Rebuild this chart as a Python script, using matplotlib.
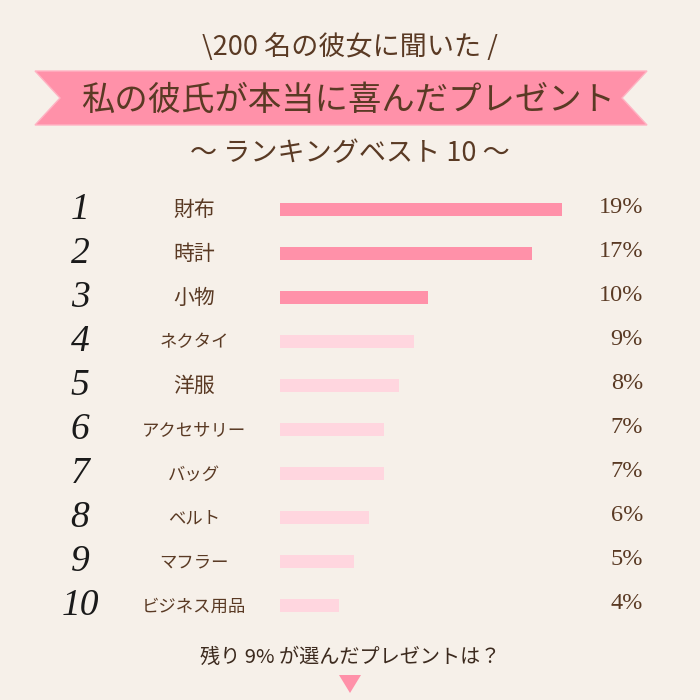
import numpy as np
import matplotlib
matplotlib.use("Agg")
import matplotlib.pyplot as plt
from matplotlib.patches import Polygon
from matplotlib import transforms

plt.rcParams['font.family'] = ['Noto Sans CJK JP', 'DejaVu Sans']

# data
items = ["財布", "時計", "小物", "ネクタイ", "洋服", "アクセサリー", "バッグ", "ベルト", "マフラー", "ビジネス用品"]
shares = [19, 17, 10, 9, 8, 7, 7, 6, 5, 4]
ranks = ["1", "2", "3", "4", "5", "6", "7", "8", "9", "10"]
header = "\\200 名の彼女に聞いた /"
title = "私の彼氏が本当に喜んだプレゼント"
subtitle = "～ ランキングベスト 10 ～"
footer = "残り 9% が選んだプレゼントは？"

bg = "#f6f0e9"
pink = "#ff91a9"
light_pink = "#ffd6df"
brown = "#5a3a24"

W = 700.0
fig = plt.figure(figsize=(7, 7), dpi=100, facecolor=bg)

# pixel helpers for figure coords
def fx(px):
    return px / W

def fy(py):
    return 1 - py / W

# chart axes spanning the whole figure: x in %, y in rows
px_per_pct = 14.84
bar_left_px = 280
row0_px = 209.5
row_px = 44.0
ax = fig.add_axes([0, 0, 1, 1])
ax.set_facecolor(bg)
ax.set_xlim(-bar_left_px / px_per_pct, (W - bar_left_px) / px_per_pct)
ax.set_ylim((W - row0_px) / row_px, -row0_px / row_px)
ax.axis("off")

rows = np.arange(len(items))
colors = [pink if i < 3 else light_pink for i in rows]
ax.barh(rows, shares, height=13 / row_px, left=0, color=colors)

tr = transforms.blended_transform_factory(fig.transFigure, ax.transData)
for i in rows:
    ax.text(fx(80), i, ranks[i], transform=tr, ha="center", va="center",
            family="Liberation Serif", style="italic", fontsize=27, color="#1a1a1a")
    small = len(items[i]) > 2
    ax.text(fx(194), i + 0.02, items[i], transform=tr, ha="center", va="center",
            fontsize=12.5 if small else 15, color=brown)
    ax.text(fx(643), i - 0.05, f"{shares[i]}%", transform=tr, ha="right", va="center",
            family="Liberation Serif", fontsize=17.5, color=brown)

# header block
fig.text(0.5, fy(47), header, ha="center", va="center", fontsize=19.5, color=brown)

ribbon = Polygon([(fx(35), fy(71)), (fx(647), fy(71)), (fx(622), fy(98)),
                  (fx(647), fy(125)), (fx(35), fy(125)), (fx(60), fy(98))],
                 closed=True, transform=fig.transFigure, facecolor=pink,
                 edgecolor="#ffb3c3", linewidth=1)
fig.patches.append(ribbon)
fig.text(fx(348), fy(100), title, ha="center", va="center", fontsize=24, color=brown)

fig.text(0.5, fy(154), subtitle, ha="center", va="center", fontsize=19.5, color=brown)

# footer
fig.text(0.5, fy(657), footer, ha="center", va="center", fontsize=14.5, color="#3c2a1e")
arrow = Polygon([(fx(339), fy(675)), (fx(361), fy(675)), (fx(350), fy(693))],
                closed=True, transform=fig.transFigure, facecolor=pink, edgecolor="none")
fig.patches.append(arrow)

fig.savefig("out.png", dpi=100, facecolor=bg)
